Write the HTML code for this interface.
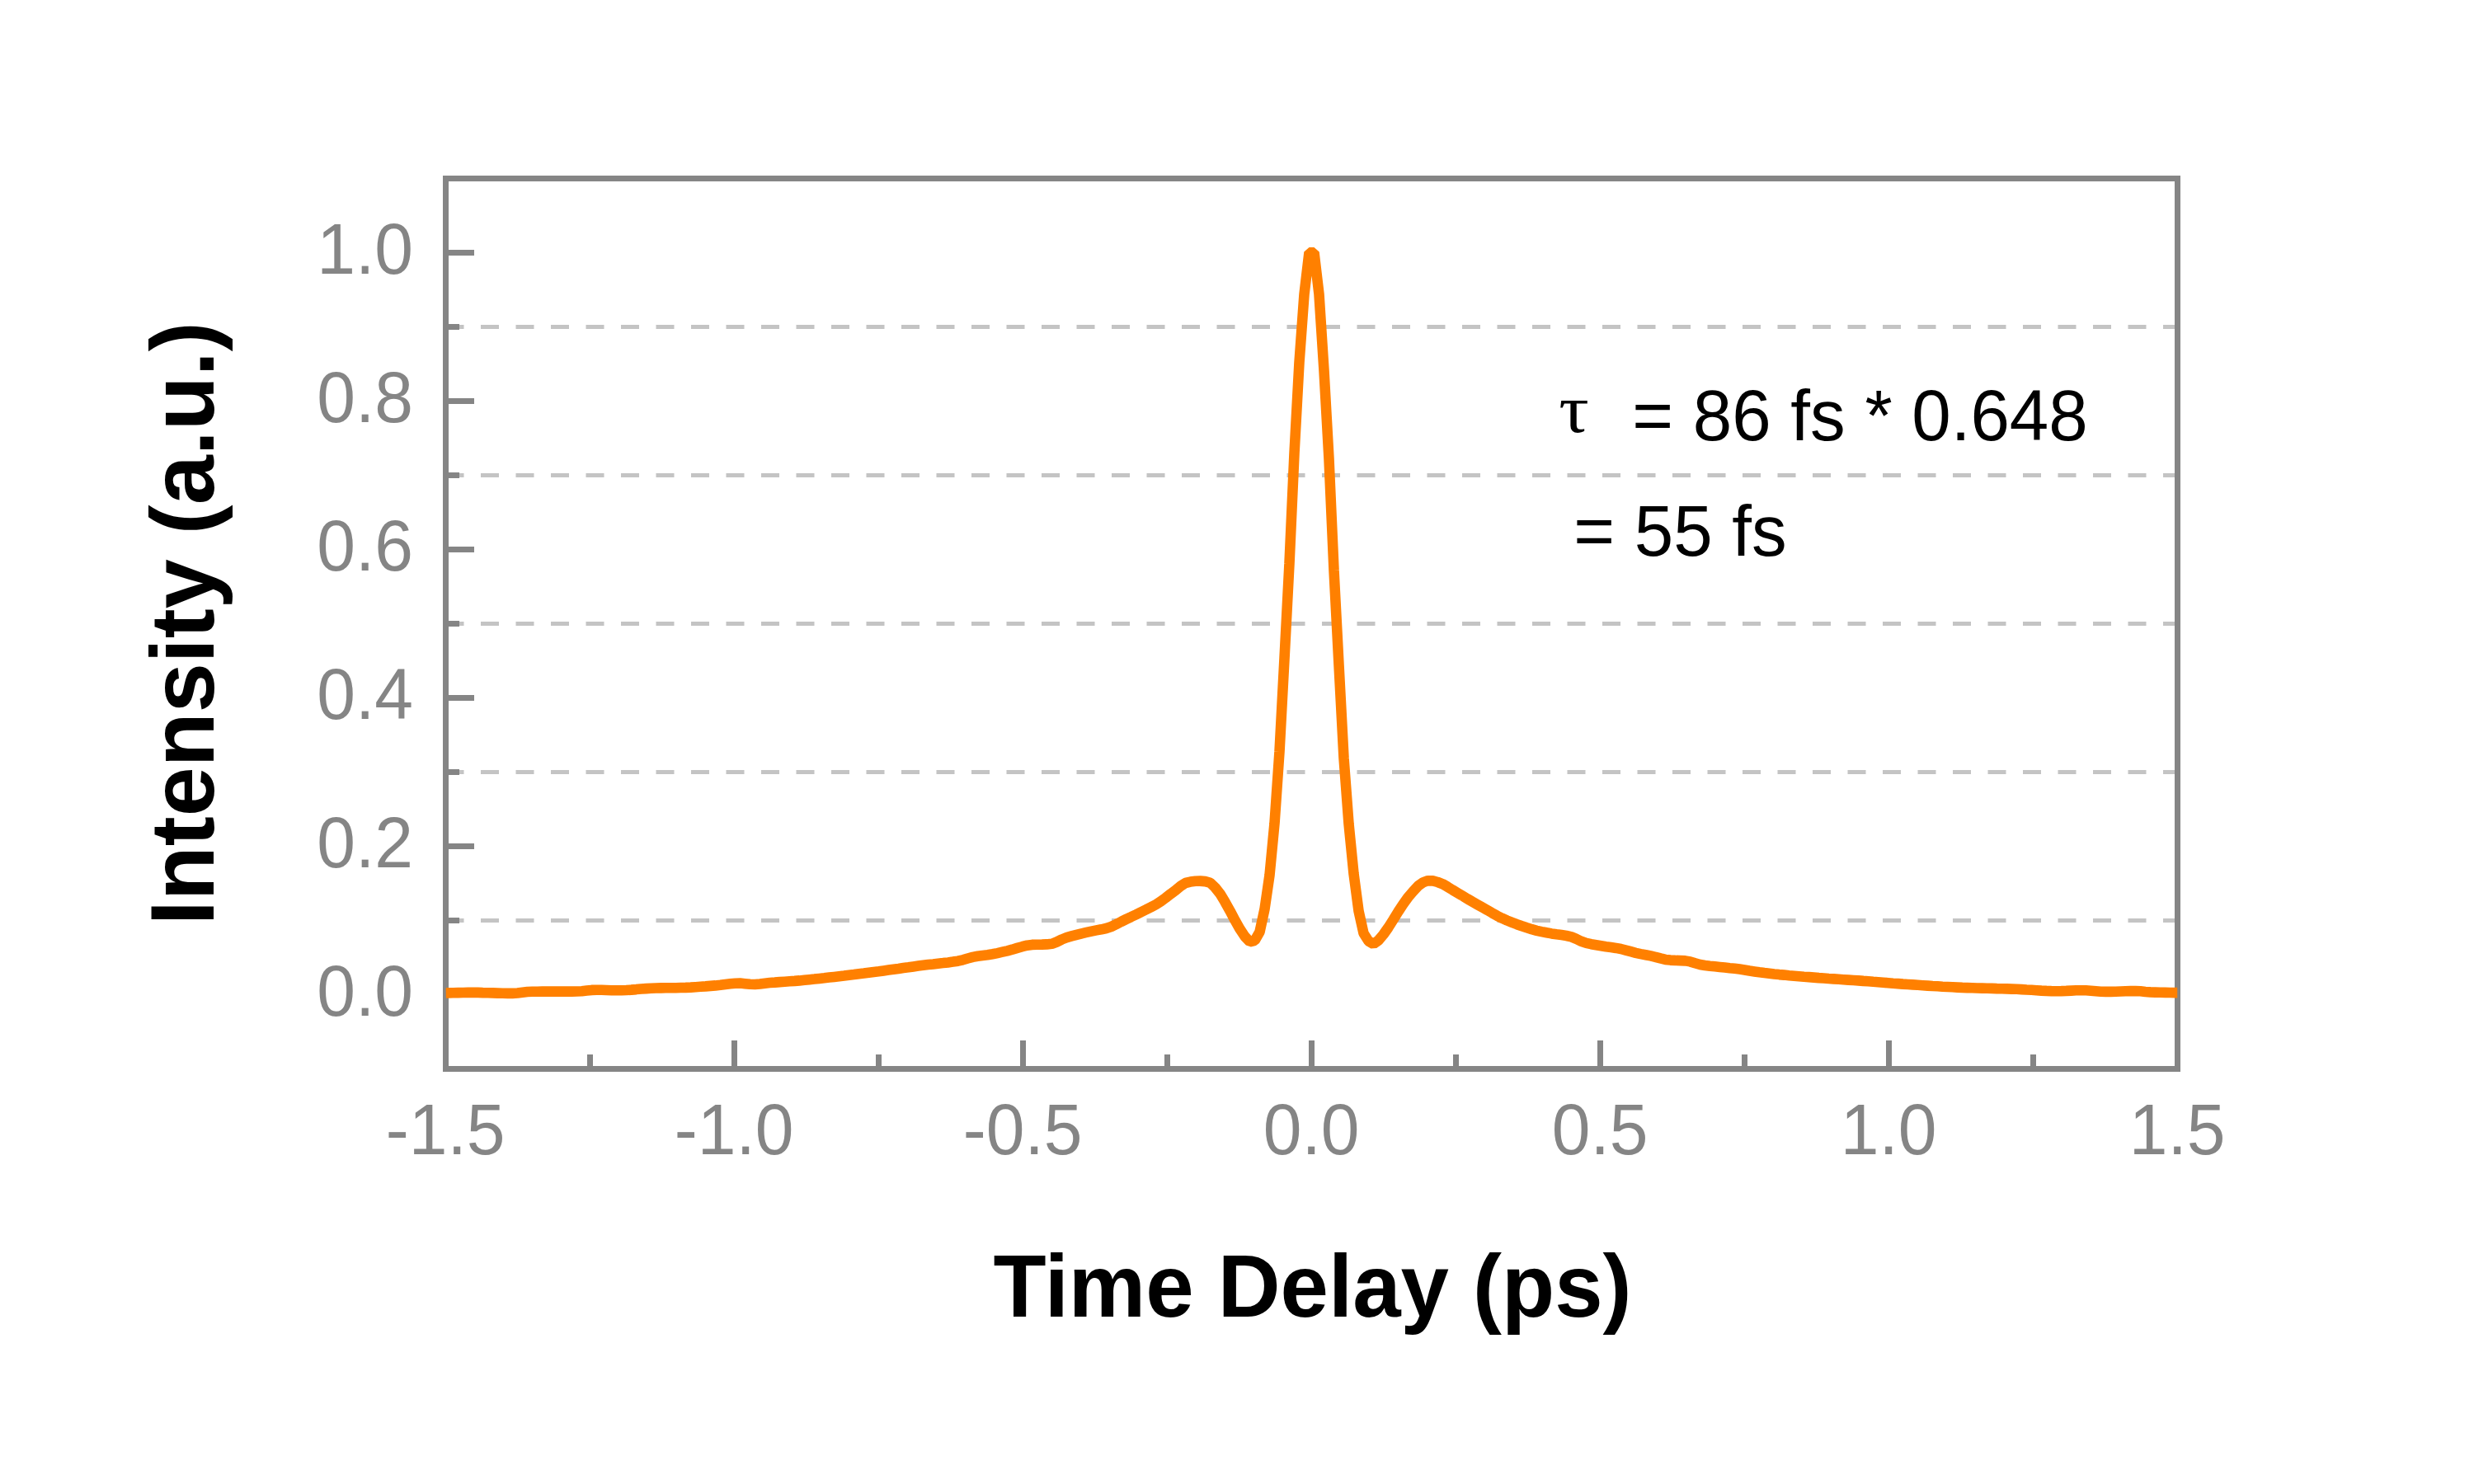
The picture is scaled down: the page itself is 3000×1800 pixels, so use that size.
<!DOCTYPE html>
<html lang="en"><head><meta charset="utf-8"><title>Autocorrelation</title>
<style>html,body{margin:0;padding:0;background:#fff}svg{display:block}text{font-family:"Liberation Sans",sans-serif}.tk{font-size:84px;fill:#858585}.lb{font-size:105px;font-weight:bold;fill:#000}.yl{font-size:108px}.an{font-size:85.3px;fill:#000}.tau{font-family:"Liberation Serif",serif;font-size:82px;fill:#000}</style></head><body>
<svg width="3000" height="1800" viewBox="0 0 3000 1800">
<rect width="3000" height="1800" fill="#fff"/>
<g stroke="#c4c4c4" stroke-width="5" stroke-dasharray="22 20.5" fill="none">
<line x1="540.5" y1="396.5" x2="2640.5" y2="396.5"/>
<line x1="540.5" y1="576.5" x2="2640.5" y2="576.5"/>
<line x1="540.5" y1="756.5" x2="2640.5" y2="756.5"/>
<line x1="540.5" y1="936.5" x2="2640.5" y2="936.5"/>
<line x1="540.5" y1="1116.5" x2="2640.5" y2="1116.5"/>
</g>
<g stroke="#858585" stroke-width="7" fill="none">
<rect x="540.5" y="216.5" width="2100.0" height="1080.0"/>
<line x1="540.5" y1="1206.5" x2="575" y2="1206.5"/>
<line x1="540.5" y1="1116.5" x2="557" y2="1116.5"/>
<line x1="540.5" y1="1026.5" x2="575" y2="1026.5"/>
<line x1="540.5" y1="936.5" x2="557" y2="936.5"/>
<line x1="540.5" y1="846.5" x2="575" y2="846.5"/>
<line x1="540.5" y1="756.5" x2="557" y2="756.5"/>
<line x1="540.5" y1="666.5" x2="575" y2="666.5"/>
<line x1="540.5" y1="576.5" x2="557" y2="576.5"/>
<line x1="540.5" y1="486.5" x2="575" y2="486.5"/>
<line x1="540.5" y1="396.5" x2="557" y2="396.5"/>
<line x1="540.5" y1="306.5" x2="575" y2="306.5"/>
<line x1="715.5" y1="1296.5" x2="715.5" y2="1279"/>
<line x1="890.5" y1="1296.5" x2="890.5" y2="1262"/>
<line x1="1065.5" y1="1296.5" x2="1065.5" y2="1279"/>
<line x1="1240.5" y1="1296.5" x2="1240.5" y2="1262"/>
<line x1="1415.5" y1="1296.5" x2="1415.5" y2="1279"/>
<line x1="1590.5" y1="1296.5" x2="1590.5" y2="1262"/>
<line x1="1765.5" y1="1296.5" x2="1765.5" y2="1279"/>
<line x1="1940.5" y1="1296.5" x2="1940.5" y2="1262"/>
<line x1="2115.5" y1="1296.5" x2="2115.5" y2="1279"/>
<line x1="2290.5" y1="1296.5" x2="2290.5" y2="1262"/>
<line x1="2465.5" y1="1296.5" x2="2465.5" y2="1279"/>
</g>
<clipPath id="c"><rect x="540.5" y="216.5" width="2100.0" height="1080.0"/></clipPath>
<path clip-path="url(#c)" d="M540.5,1204.5 L543.5,1204.4 L549.5,1204.2 L555.5,1204.1 L561.5,1204.0 L567.5,1203.9 L573.5,1203.9 L579.5,1203.9 L585.5,1204.1 L591.5,1204.2 L597.5,1204.4 L603.5,1204.6 L609.5,1204.8 L615.5,1204.9 L621.5,1204.9 L627.5,1204.5 L633.5,1203.7 L639.5,1203.0 L645.5,1202.7 L651.5,1202.7 L657.5,1202.6 L663.5,1202.6 L669.5,1202.6 L675.5,1202.6 L681.5,1202.6 L687.5,1202.6 L693.5,1202.6 L699.5,1202.5 L705.5,1202.3 L711.5,1201.6 L717.5,1200.9 L723.5,1200.7 L729.5,1200.8 L735.5,1201.0 L741.5,1201.2 L747.5,1201.3 L753.5,1201.3 L759.5,1201.0 L765.5,1200.6 L771.5,1200.1 L777.5,1199.5 L783.5,1199.1 L789.5,1198.7 L795.5,1198.5 L801.5,1198.4 L807.5,1198.3 L813.5,1198.3 L819.5,1198.2 L825.5,1198.0 L831.5,1197.9 L837.5,1197.6 L843.5,1197.2 L849.5,1196.8 L855.5,1196.4 L861.5,1195.9 L867.5,1195.4 L873.5,1194.7 L879.5,1193.9 L885.5,1193.2 L891.5,1192.7 L897.5,1192.6 L903.5,1193.2 L909.5,1193.8 L915.5,1194.0 L921.5,1193.5 L927.5,1192.7 L933.5,1192.0 L939.5,1191.6 L945.5,1191.1 L951.5,1190.7 L957.5,1190.3 L963.5,1189.9 L969.5,1189.4 L975.5,1188.8 L981.5,1188.2 L987.5,1187.6 L993.5,1186.9 L999.5,1186.3 L1005.5,1185.6 L1011.5,1184.9 L1017.5,1184.2 L1023.5,1183.5 L1029.5,1182.7 L1035.5,1182.0 L1041.5,1181.2 L1047.5,1180.5 L1053.5,1179.7 L1059.5,1178.9 L1065.5,1178.2 L1071.5,1177.4 L1077.5,1176.6 L1083.5,1175.8 L1089.5,1175.0 L1095.5,1174.1 L1101.5,1173.3 L1107.5,1172.4 L1113.5,1171.6 L1119.5,1170.8 L1125.5,1170.0 L1131.5,1169.4 L1137.5,1168.7 L1143.5,1168.1 L1149.5,1167.4 L1155.5,1166.6 L1161.5,1165.7 L1167.5,1164.3 L1173.5,1162.5 L1179.5,1160.9 L1185.5,1159.8 L1191.5,1159.0 L1197.5,1158.3 L1203.5,1157.3 L1209.5,1156.1 L1215.5,1154.7 L1221.5,1153.3 L1227.5,1151.7 L1233.5,1149.9 L1239.5,1148.2 L1245.5,1146.7 L1251.5,1145.9 L1257.5,1145.7 L1263.5,1145.6 L1269.5,1145.4 L1275.5,1144.8 L1281.5,1142.5 L1287.5,1139.5 L1293.5,1137.1 L1299.5,1135.4 L1305.5,1133.8 L1311.5,1132.3 L1317.5,1130.9 L1323.5,1129.6 L1329.5,1128.4 L1335.5,1127.3 L1341.5,1126.0 L1347.5,1124.0 L1353.5,1121.1 L1359.5,1118.0 L1365.5,1115.0 L1371.5,1112.2 L1377.5,1109.3 L1383.5,1106.3 L1389.5,1103.4 L1395.5,1100.4 L1401.5,1097.2 L1407.5,1093.4 L1413.5,1089.0 L1419.5,1084.3 L1425.5,1079.9 L1431.5,1074.9 L1437.5,1071.0 L1443.5,1069.6 L1449.5,1068.8 L1455.5,1068.6 L1461.5,1069.1 L1467.5,1070.8 L1473.5,1076.5 L1479.5,1084.1 L1485.5,1094.1 L1491.5,1104.8 L1497.5,1116.2 L1503.5,1126.8 L1509.5,1135.9 L1515.5,1142.3 L1521.5,1140.9 L1527.5,1130.4 L1533.5,1102.7 L1539.5,1061.5 L1545.5,998.7 L1551.5,911.6 L1557.5,798.9 L1563.5,683.4 L1569.5,550.0 L1575.5,439.6 L1581.5,357.0 L1587.5,306.3 L1593.5,306.3 L1599.5,357.0 L1605.5,449.6 L1611.5,556.7 L1617.5,691.5 L1623.5,806.4 L1629.5,919.4 L1635.5,999.2 L1641.5,1059.6 L1647.5,1104.9 L1653.5,1132.0 L1659.5,1141.5 L1665.5,1145.0 L1671.5,1140.6 L1677.5,1133.5 L1683.5,1125.0 L1689.5,1115.5 L1695.5,1105.8 L1701.5,1096.6 L1707.5,1088.3 L1713.5,1081.2 L1719.5,1074.7 L1725.5,1070.4 L1731.5,1068.2 L1737.5,1068.4 L1743.5,1070.0 L1749.5,1072.3 L1755.5,1075.8 L1761.5,1079.5 L1767.5,1083.1 L1773.5,1086.7 L1779.5,1090.3 L1785.5,1093.8 L1791.5,1097.2 L1797.5,1100.6 L1803.5,1103.9 L1809.5,1107.4 L1815.5,1110.8 L1821.5,1113.8 L1827.5,1116.5 L1833.5,1118.9 L1839.5,1121.2 L1845.5,1123.3 L1851.5,1125.3 L1857.5,1127.2 L1863.5,1128.8 L1869.5,1130.1 L1875.5,1131.3 L1881.5,1132.4 L1887.5,1133.3 L1893.5,1134.1 L1899.5,1135.0 L1905.5,1136.4 L1911.5,1138.9 L1917.5,1141.8 L1923.5,1143.9 L1929.5,1145.2 L1935.5,1146.2 L1941.5,1147.2 L1947.5,1148.2 L1953.5,1149.0 L1959.5,1149.9 L1965.5,1151.0 L1971.5,1152.6 L1977.5,1154.2 L1983.5,1155.8 L1989.5,1157.1 L1995.5,1158.2 L2001.5,1159.4 L2007.5,1160.8 L2013.5,1162.4 L2019.5,1163.9 L2025.5,1164.6 L2031.5,1164.9 L2037.5,1165.1 L2043.5,1165.4 L2049.5,1166.4 L2055.5,1168.3 L2061.5,1170.0 L2067.5,1171.0 L2073.5,1171.7 L2079.5,1172.3 L2085.5,1172.9 L2091.5,1173.5 L2097.5,1174.2 L2103.5,1174.8 L2109.5,1175.6 L2115.5,1176.5 L2121.5,1177.5 L2127.5,1178.4 L2133.5,1179.3 L2139.5,1180.1 L2145.5,1180.8 L2151.5,1181.5 L2157.5,1182.1 L2163.5,1182.6 L2169.5,1183.2 L2175.5,1183.7 L2181.5,1184.2 L2187.5,1184.7 L2193.5,1185.1 L2199.5,1185.6 L2205.5,1186.1 L2211.5,1186.5 L2217.5,1187.0 L2223.5,1187.4 L2229.5,1187.8 L2235.5,1188.2 L2241.5,1188.6 L2247.5,1189.0 L2253.5,1189.4 L2259.5,1189.9 L2265.5,1190.3 L2271.5,1190.8 L2277.5,1191.2 L2283.5,1191.7 L2289.5,1192.2 L2295.5,1192.7 L2301.5,1193.1 L2307.5,1193.6 L2313.5,1194.0 L2319.5,1194.4 L2325.5,1194.8 L2331.5,1195.2 L2337.5,1195.6 L2343.5,1196.0 L2349.5,1196.3 L2355.5,1196.7 L2361.5,1197.0 L2367.5,1197.3 L2373.5,1197.6 L2379.5,1197.9 L2385.5,1198.1 L2391.5,1198.3 L2397.5,1198.5 L2403.5,1198.6 L2409.5,1198.8 L2415.5,1198.9 L2421.5,1199.1 L2427.5,1199.2 L2433.5,1199.4 L2439.5,1199.6 L2445.5,1199.8 L2451.5,1200.1 L2457.5,1200.5 L2463.5,1200.8 L2469.5,1201.2 L2475.5,1201.6 L2481.5,1201.9 L2487.5,1202.1 L2493.5,1202.2 L2499.5,1202.1 L2505.5,1201.9 L2511.5,1201.6 L2517.5,1201.3 L2523.5,1201.2 L2529.5,1201.3 L2535.5,1201.7 L2541.5,1202.2 L2547.5,1202.7 L2553.5,1202.9 L2559.5,1202.9 L2565.5,1202.7 L2571.5,1202.5 L2577.5,1202.3 L2583.5,1202.1 L2589.5,1202.0 L2595.5,1202.3 L2601.5,1203.0 L2607.5,1203.4 L2613.5,1203.6 L2619.5,1203.8 L2625.5,1203.9 L2631.5,1204.0 L2637.5,1204.1 L2640.5,1204.1" fill="none" stroke="#ff8000" stroke-width="12.6" stroke-linejoin="bevel" stroke-linecap="butt"/>
<text class="tk" transform="translate(501.0 1232.2) scale(1 1.04)" text-anchor="end">0.0</text>
<text class="tk" transform="translate(501.0 1052.2) scale(1 1.04)" text-anchor="end">0.2</text>
<text class="tk" transform="translate(501.0 872.2) scale(1 1.04)" text-anchor="end">0.4</text>
<text class="tk" transform="translate(501.0 692.2) scale(1 1.04)" text-anchor="end">0.6</text>
<text class="tk" transform="translate(501.0 512.2) scale(1 1.04)" text-anchor="end">0.8</text>
<text class="tk" transform="translate(501.0 332.2) scale(1 1.04)" text-anchor="end">1.0</text>
<text class="tk" transform="translate(540.1 1400.0) scale(1 1.04)" text-anchor="middle">-1.5</text>
<text class="tk" transform="translate(890.1 1400.0) scale(1 1.04)" text-anchor="middle">-1.0</text>
<text class="tk" transform="translate(1240.1 1400.0) scale(1 1.04)" text-anchor="middle">-0.5</text>
<text class="tk" transform="translate(1590.1 1400.0) scale(1 1.04)" text-anchor="middle">0.0</text>
<text class="tk" transform="translate(1940.1 1400.0) scale(1 1.04)" text-anchor="middle">0.5</text>
<text class="tk" transform="translate(2290.1 1400.0) scale(1 1.04)" text-anchor="middle">1.0</text>
<text class="tk" transform="translate(2640.1 1400.0) scale(1 1.04)" text-anchor="middle">1.5</text>
<text class="lb" transform="translate(1591.5 1597.3) scale(1 1.02)" text-anchor="middle">Time Delay (ps)</text>
<text class="lb yl" transform="translate(259.2 756.2) rotate(-90) scale(1 1.02)" text-anchor="middle">Intensity (a.u.)</text>
<text class="tau" transform="translate(1890.3 524.0) scale(1.11 1)" text-anchor="start">τ</text>
<text class="an" transform="translate(1979.3 534.3) scale(1 1.02)" text-anchor="start">= 86 fs * 0.648</text>
<text class="an" transform="translate(1908.2 673.7) scale(1 1.02)" text-anchor="start">= 55 fs</text>
</svg></body></html>
